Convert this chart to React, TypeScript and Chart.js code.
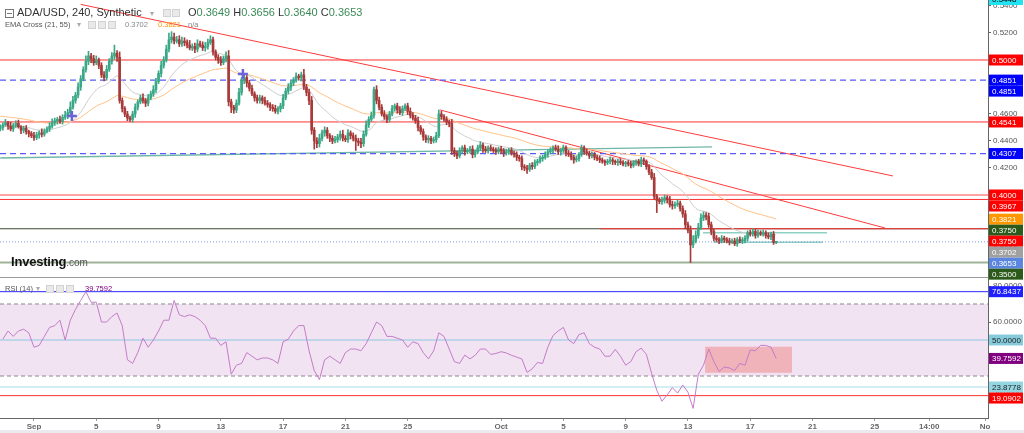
import React, { useEffect, useRef } from 'react';
import { Chart, registerables } from 'chart.js';

Chart.register(...registerables);

// ---------- DATA (prices in 1/10000 units, one value per 4h candle) ----------
const firstOpen = 4490;
const closes = [
  4500, 4520, 4535, 4510, 4490, 4515, 4530, 4505, 4480, 4495,
  4470, 4455, 4440, 4425, 4445, 4460, 4450, 4470, 4490, 4510,
  4535, 4550, 4560, 4545, 4575, 4590, 4610, 4650, 4700, 4740,
  4800, 4860, 4930, 4990, 5030, 5010, 4980, 5000, 4960, 4890,
  4870, 4930, 4990, 5030, 5050, 5020, 4700, 4640, 4600, 4570,
  4560, 4600, 4650, 4690, 4720, 4700, 4680, 4720, 4750, 4780,
  4840, 4900, 4960, 5000, 5080, 5150, 5170, 5140, 5150, 5120,
  5140, 5130, 5110, 5090, 5100, 5080, 5120, 5110, 5090, 5100,
  5130, 5150, 5060, 5020, 5000, 4980, 5010, 5030, 4690, 4650,
  4630, 4680, 4760, 4850, 4870, 4830, 4790, 4750, 4720, 4700,
  4720, 4700, 4680, 4670, 4650, 4640, 4620, 4640, 4660, 4720,
  4770, 4800, 4830, 4850, 4880, 4870, 4890, 4800, 4760, 4700,
  4480, 4400, 4380, 4420, 4460, 4480, 4440, 4420, 4400, 4410,
  4430, 4450, 4420, 4410, 4460, 4440, 4420, 4400, 4390, 4380,
  4450, 4520, 4560, 4590, 4780, 4700, 4650, 4600, 4580, 4560,
  4600, 4640, 4660, 4630, 4610, 4640, 4660, 4620, 4590, 4570,
  4550, 4500, 4470, 4430, 4410, 4420, 4400, 4410, 4440, 4600,
  4580, 4560, 4540, 4530, 4330, 4310, 4290, 4330, 4350, 4320,
  4330, 4340, 4300, 4320, 4350, 4370, 4340, 4330, 4350, 4340,
  4330, 4320, 4340, 4330, 4310, 4320, 4330, 4310, 4300, 4280,
  4270, 4210, 4200, 4190, 4220, 4210, 4240, 4250, 4270, 4280,
  4300, 4320, 4330, 4350, 4340, 4320, 4330, 4350, 4310, 4300,
  4280, 4260, 4270, 4300, 4350, 4320, 4310, 4290, 4300, 4280,
  4270, 4260, 4250, 4240, 4250, 4260, 4250, 4240, 4250, 4240,
  4230, 4240, 4230, 4220, 4240, 4250, 4230, 4260, 4250, 4210,
  4170, 4130, 3990, 3960, 3950, 3960, 3980, 3970, 3930, 3920,
  3930, 3940, 3900, 3860, 3780, 3740, 3630, 3660, 3700, 3760,
  3830, 3850, 3840, 3780, 3730, 3680, 3670, 3660, 3680, 3670,
  3660, 3650, 3660, 3640, 3670, 3660, 3660, 3680, 3720, 3710,
  3730, 3700, 3720, 3710, 3720, 3700, 3690, 3710, 3649, 3653,
];
const upWick = [
  20, 15, 25, 10, 30, 15, 20, 25, 10, 15,
  20, 10, 15, 25, 20, 15, 30, 20, 15, 25,
  30, 20, 15, 25, 20, 30, 25, 40, 30, 20,
  30, 25, 20, 40, 35, 20, 25, 30, 15, 20,
  25, 30, 20, 25, 60, 20, 40, 20, 15, 20,
  15, 20, 25, 15, 20, 30, 15, 25, 20, 30,
  25, 20, 30, 25, 30, 50, 40, 30, 25, 30,
  30, 25, 20, 35, 20, 25, 30, 20, 25, 30,
  25, 30, 20, 15, 20, 25, 20, 30, 40, 20,
  15, 25, 30, 20, 25, 15, 20, 25, 15, 20,
  20, 15, 25, 20, 15, 20, 25, 15, 20, 25,
  20, 25, 15, 20, 25, 15, 20, 40, 20, 25,
  30, 20, 25, 30, 20, 25, 20, 15, 20, 25,
  20, 25, 30, 20, 25, 15, 20, 25, 20, 30,
  25, 30, 20, 25, 20, 30, 25, 20, 25, 15,
  20, 25, 15, 20, 25, 20, 15, 20, 25, 20,
  20, 25, 15, 20, 15, 20, 15, 20, 25, 30,
  20, 15, 20, 15, 30, 20, 15, 20, 15, 20,
  15, 20, 25, 15, 20, 25, 15, 20, 15, 20,
  15, 20, 15, 20, 15, 20, 15, 20, 15, 20,
  15, 20, 15, 20, 15, 20, 20, 15, 20, 15,
  20, 15, 20, 15, 20, 25, 15, 20, 15, 20,
  20, 15, 20, 15, 20, 15, 20, 15, 20, 15,
  15, 20, 15, 10, 15, 20, 15, 10, 15, 20,
  15, 10, 15, 20, 15, 10, 15, 20, 15, 10,
  15, 20, 30, 15, 20, 25, 20, 15, 20, 25,
  20, 25, 15, 20, 25, 20, 30, 40, 35, 30,
  30, 25, 20, 25, 20, 15, 20, 15, 20, 15,
  15, 20, 15, 20, 15, 20, 25, 20, 15, 20,
  20, 15, 20, 15, 20, 15, 20, 15, 20, 3,
];
const downWick = [
  15, 20, 10, 25, 15, 20, 15, 10, 25, 20,
  20, 25, 15, 20, 15, 25, 20, 15, 10, 20,
  15, 20, 25, 15, 20, 15, 25, 20, 15, 20,
  20, 25, 15, 20, 25, 30, 20, 15, 25, 20,
  25, 20, 15, 20, 25, 30, 20, 25, 20, 20,
  15, 20, 25, 20, 15, 20, 25, 20, 15, 20,
  20, 15, 25, 20, 15, 20, 25, 20, 15, 20,
  20, 25, 20, 15, 20, 25, 20, 15, 20, 25,
  20, 15, 25, 20, 25, 20, 15, 25, 30, 40,
  25, 20, 15, 20, 25, 30, 20, 15, 25, 20,
  20, 25, 15, 20, 25, 20, 15, 20, 25, 20,
  15, 20, 25, 20, 15, 20, 25, 20, 25, 30,
  30, 60, 30, 25, 20, 25, 20, 25, 20, 15,
  20, 25, 20, 15, 20, 25, 20, 70, 25, 30,
  20, 15, 20, 15, 20, 25, 20, 15, 20, 25,
  20, 15, 20, 25, 15, 20, 15, 25, 20, 15,
  20, 25, 20, 25, 20, 25, 20, 15, 20, 15,
  20, 15, 20, 25, 30, 25, 20, 15, 20, 25,
  15, 20, 25, 20, 15, 20, 25, 15, 20, 15,
  15, 20, 15, 20, 25, 15, 20, 15, 20, 25,
  20, 25, 20, 30, 15, 20, 15, 20, 15, 20,
  15, 20, 15, 20, 15, 20, 25, 15, 20, 15,
  20, 25, 15, 20, 15, 20, 15, 20, 15, 20,
  15, 20, 15, 20, 15, 20, 25, 15, 20, 15,
  15, 20, 15, 20, 15, 20, 15, 20, 25, 20,
  20, 15, 20, 90, 15, 20, 20, 30, 20, 25,
  20, 15, 20, 25, 30, 20, 130, 20, 15, 20,
  15, 20, 25, 20, 25, 20, 15, 20, 15, 20,
  15, 20, 10, 15, 20, 15, 20, 15, 20, 15,
  15, 20, 15, 10, 15, 20, 15, 20, 15, 9,
];
// RSI(14), one reading every second candle (candles 1, 3, 5, ...)
const rsiValues = [
  50.5, 55, 52, 55, 56, 54, 46, 47, 52, 57,
  58, 61, 50, 61, 67, 72, 76.84, 71, 71, 60,
  60, 63, 65, 58, 39, 37, 43, 51, 46, 50,
  55, 61, 61, 72, 64, 63, 64, 63, 61, 58,
  51, 51, 47, 49, 31, 36, 37, 43, 41, 39,
  40, 40, 39, 37, 49, 50.5, 55, 58, 58, 44,
  33, 28, 39, 41, 39, 37, 43, 45, 45, 44,
  48, 54, 60, 58, 52, 52, 51, 50, 46, 49,
  48, 43, 39.5, 44, 54, 52, 45, 38, 37, 41.6,
  39.5, 41.5, 45, 45, 42, 42.5, 43.5, 42.8, 41.5, 40.5,
  39.5, 32, 34, 37.5, 37, 46, 52.5, 55, 57, 50,
  48, 53, 54, 48, 46, 45, 41, 41, 44.8, 41,
  36, 38, 43.5, 45.5, 42, 31.5, 22, 16, 19.5, 23.5,
  20.5, 25, 21, 12, 31, 36, 45, 38, 32.5, 35,
  34.5, 33, 37, 36, 44.5, 44, 47, 47, 46, 39.7592,
];
const ema21Seed = 0.4506;
const ema55Seed = 0.4587;
const emaCrossIdx = [27.6, 93.5];
const emaCrossPrice = [0.4585, 0.4896];

// Levels / drawings (price units, candle-index units)
const redLevels = [0.5, 0.4541, 0.3967];
const paleRedLevels = [0.4];
const blueDashedLevels = [0.4851, 0.4307];
const currentPrice = 0.3653;
const supportLevel = 0.35;
const level375 = 0.375;
const trendA = { x: [31, 344], y: [0.5412, 0.4141] };
const trendB = { x: [169.5, 340.9], y: [0.463, 0.3756] };
const tealLong = { x: [0, 274.3], y: [0.4274, 0.4356] };
const tealBox = { x: [270.8, 318.6], y: [0.3721, 0.365] };

const rsiBand = [30, 70];
const rsiLevelMax = 76.8437;
const rsiLevelMid = 50;
const rsiLevelA = 23.8778;
const rsiLevelB = 19.0902;
const rsiBox = { x: [271.6, 305.1], y: [31.8, 46.3] };

const xTickIdx = [13, 37, 61, 85, 109, 133, 157, 193, 217, 241, 265, 289, 313, 337, 358, 379.5];
const xTickLabels = ['Sep', '5', '9', '13', '17', '21', '25', 'Oct', '5', '9', '13', '17', '21', '25', '14:00', 'No'];
const priceTicks = [0.54, 0.52, 0.5, 0.48, 0.46, 0.44, 0.42, 0.4, 0.38, 0.36];
const rsiTicks = [80, 60, 40, 20];

const priceTags = [
  { v: 0.5448, bg: '#22e3f2', fg: '#000' },
  { v: 0.5, bg: '#ff0000', fg: '#fff' },
  { v: 0.4851, bg: '#0000ff', fg: '#fff' },
  { v: 0.4851, bg: '#0000ff', fg: '#fff' },
  { v: 0.4541, bg: '#ff0000', fg: '#fff' },
  { v: 0.4307, bg: '#0000ff', fg: '#fff' },
  { v: 0.4, bg: '#ff0000', fg: '#fff' },
  { v: 0.3967, bg: '#ff0000', fg: '#fff' },
  { v: 0.3821, bg: '#ff9800', fg: '#fff' },
  { v: 0.375, bg: '#2b5a1a', fg: '#fff' },
  { v: 0.375, bg: '#ff0000', fg: '#fff' },
  { v: 0.3702, bg: '#a0a0a0', fg: '#fff' },
  { v: 0.3653, bg: '#5a86e0', fg: '#fff' },
  { v: 0.35, bg: '#2b5a1a', fg: '#fff' },
];
const rsiTags = [
  { v: 76.8437, bg: '#2020ff', fg: '#fff' },
  { v: 50, bg: '#86cbdc', fg: '#222' },
  { v: 39.7592, bg: '#800080', fg: '#fff' },
  { v: 23.8778, bg: '#93d6e2', fg: '#222' },
  { v: 19.0902, bg: '#ff0000', fg: '#fff' },
];

// ---------- helpers ----------
const X_MIN = -0.1;
const X_MAX = 380.63;
const FONT = '"Liberation Sans", Arial, sans-serif';
const UP = '#3aa886';
const DOWN = '#a83a3a';

function emaSeries(vals: number[], period: number, seed: number) {
  const k = 2 / (period + 1);
  let e = seed;
  return vals.map((v) => (e = v * k + e * (1 - k)));
}

function seg(x0: number, x1: number, y0: number, y1: number) {
  return [{ x: x0, y: y0 }, { x: x1, y: y1 }];
}

function lineDs(data: any[], color: string, width = 1, dash: number[] = [], order = 20, extra: any = {}) {
  return {
    type: 'line',
    data,
    borderColor: color,
    borderWidth: width,
    borderDash: dash,
    pointRadius: 0,
    fill: false,
    tension: 0,
    order,
    ...extra,
  };
}

function tagPlugin(id: string, tags: { v: number; bg: string; fg: string }[], digits: number) {
  return {
    id,
    afterDraw(chart: any) {
      const s = chart.scales.y;
      const ctx = chart.ctx;
      const items = tags.map((t, i) => ({ ...t, i, y: s.getPixelForValue(t.v) }));
      items.sort((a, b) => a.y - b.y || a.i - b.i);
      let prev = -Infinity;
      ctx.save();
      ctx.font = `8px ${FONT}`;
      ctx.textBaseline = 'middle';
      ctx.textAlign = 'left';
      for (const it of items) {
        const y = Math.max(it.y, prev + 11);
        prev = y;
        ctx.fillStyle = it.bg;
        ctx.fillRect(s.left + 1, y - 5.5, 34, 11);
        ctx.fillStyle = it.fg;
        ctx.fillText(it.v.toFixed(digits), s.left + 4, y + 0.5);
      }
      ctx.restore();
    },
  };
}

const separatorPlugin = {
  id: 'sep',
  afterDraw(chart: any) {
    const { ctx, chartArea } = chart;
    ctx.save();
    ctx.strokeStyle = '#9a9a9a';
    ctx.lineWidth = 1;
    ctx.beginPath();
    ctx.moveTo(0, chartArea.bottom - 0.5);
    ctx.lineTo(chartArea.right, chartArea.bottom - 0.5);
    ctx.stroke();
    ctx.restore();
  },
};

const Icon = ({ x, y }: { x: number; y: number }) => (
  <span
    style={{
      position: 'absolute',
      left: x,
      top: y,
      width: 8,
      height: 8,
      background: '#e9e9e9',
      border: '1px solid #d2d2d2',
      boxSizing: 'border-box',
    }}
  />
);

export default function App() {
  const priceRef = useRef<HTMLCanvasElement>(null);
  const rsiRef = useRef<HTMLCanvasElement>(null);

  useEffect(() => {
    const candles = closes.map((c, i) => {
      const o = i === 0 ? firstOpen : closes[i - 1];
      const top = Math.max(o, c);
      const bot = Math.min(o, c);
      return { x: i, o: o / 1e4, c: c / 1e4, h: (top + upWick[i]) / 1e4, l: (bot - downWick[i]) / 1e4 };
    });
    const closeP = closes.map((c) => c / 1e4);
    const e21 = emaSeries(closeP, 21, ema21Seed);
    const e55 = emaSeries(closeP, 55, ema55Seed);
    const colors = candles.map((k) => (k.c >= k.o ? UP : DOWN));

    const priceDatasets: any[] = [
      {
        type: 'bar',
        data: candles.map((k) => ({ x: k.x, y: [k.o, k.c] })),
        backgroundColor: colors,
        barThickness: 2,
        minBarLength: 1,
        grouped: false,
        order: 1,
      },
      {
        type: 'bar',
        data: candles.map((k) => ({ x: k.x, y: [k.l, k.h] })),
        backgroundColor: colors,
        barThickness: 1,
        grouped: false,
        order: 2,
      },
      {
        type: 'scatter',
        data: emaCrossIdx.map((x, i) => ({ x, y: emaCrossPrice[i] })),
        pointStyle: 'cross',
        pointRadius: 5,
        borderWidth: 2.5,
        borderColor: '#6e62d8',
        backgroundColor: '#6e62d8',
        order: 0,
      },
      lineDs(e21.map((y, i) => ({ x: i, y })), '#cdcdcd', 1, [], 3),
      lineDs(e55.map((y, i) => ({ x: i, y })), '#ffc184', 1, [], 4),
      ...redLevels.map((v) => lineDs(seg(X_MIN, X_MAX, v, v), '#ff3030', 1)),
      ...paleRedLevels.map((v) => lineDs(seg(X_MIN, X_MAX, v, v), 'rgba(255,90,90,0.55)', 2)),
      ...blueDashedLevels.map((v) => lineDs(seg(X_MIN, X_MAX, v, v), '#5a5af5', 1.3, [6, 4])),
      lineDs(seg(X_MIN, X_MAX, level375, level375), '#3a4a30', 1, [], 21),
      lineDs(seg(231, X_MAX, level375, level375), '#ff3030', 1),
      lineDs(seg(X_MIN, X_MAX, currentPrice, currentPrice), '#7b9be6', 1, [1, 2]),
      lineDs(seg(X_MIN, X_MAX, supportLevel, supportLevel), '#9fb39a', 2),
      lineDs(seg(trendA.x[0], trendA.x[1], trendA.y[0], trendA.y[1]), '#ff3b3b', 1),
      lineDs(seg(trendB.x[0], trendB.x[1], trendB.y[0], trendB.y[1]), '#ff3b3b', 1),
      lineDs(seg(tealLong.x[0], tealLong.x[1], tealLong.y[0], tealLong.y[1]), '#6fb7a8', 1.3),
      lineDs(seg(tealBox.x[0], tealBox.x[1], tealBox.y[0], tealBox.y[0]), '#8fd0c4', 1.5),
      lineDs(seg(tealBox.x[0] + 4, tealBox.x[1] - 1.6, tealBox.y[1], tealBox.y[1]), '#8fd0c4', 1.5),
    ];

    const priceChart = new Chart(priceRef.current as HTMLCanvasElement, {
      type: 'bar',
      data: { datasets: priceDatasets },
      options: {
        animation: false,
        responsive: false,
        maintainAspectRatio: false,
        layout: { autoPadding: false, padding: { top: 0, left: 0, right: 0, bottom: 12 } },
        plugins: { legend: { display: false }, tooltip: { enabled: false } },
        scales: {
          x: { type: 'linear', min: X_MIN, max: X_MAX, display: false, offset: false },
          y: {
            type: 'linear',
            position: 'right',
            min: 0.33852,
            max: 0.54444,
            afterBuildTicks: (s: any) => {
              s.ticks = priceTicks.map((v) => ({ value: v }));
            },
            afterFit: (s: any) => {
              s.width = 36;
              s.paddingTop = 0;
              s.paddingBottom = 0;
            },
            ticks: {
              font: { family: FONT, size: 8 },
              color: '#555',
              padding: 2,
              callback: (v: any) => Number(v).toFixed(4),
            },
            grid: { drawOnChartArea: false, tickLength: 3, color: '#666' },
            border: { display: true, color: '#666' },
          },
        },
      } as any,
      plugins: [separatorPlugin, tagPlugin('ptags', priceTags, 4)],
    });

    const rsiDatasets: any[] = [
      lineDs(
        rsiValues.map((y, k) => ({ x: 2 * k + 1, y })),
        '#c47cc9',
        1,
        [],
        0,
      ),
      lineDs(seg(rsiBox.x[0], rsiBox.x[1], rsiBox.y[1], rsiBox.y[1]), 'rgba(0,0,0,0)', 0, [], 50),
      lineDs(seg(rsiBox.x[0], rsiBox.x[1], rsiBox.y[0], rsiBox.y[0]), 'rgba(0,0,0,0)', 0, [], 50, {
        fill: '-1',
        backgroundColor: 'rgba(240,120,120,0.45)',
      }),
      lineDs(seg(X_MIN, X_MAX, rsiLevelMax, rsiLevelMax), '#2b2bff', 1, [], 60),
      lineDs(seg(X_MIN, X_MAX, rsiLevelMid, rsiLevelMid), '#8ec6e0', 1, [], 60),
      lineDs(seg(X_MIN, X_MAX, rsiLevelA, rsiLevelA), '#a6dde8', 1, [], 60),
      lineDs(seg(X_MIN, X_MAX, rsiLevelB, rsiLevelB), '#ff3030', 1, [], 60),
      lineDs(seg(X_MIN, X_MAX, rsiBand[1], rsiBand[1]), '#b0aab0', 1.5, [4, 3], 100),
      lineDs(seg(X_MIN, X_MAX, rsiBand[0], rsiBand[0]), '#b0aab0', 1.5, [4, 3], 100, {
        fill: '-1',
        backgroundColor: '#f1e3f1',
      }),
    ];

    const rsiChart = new Chart(rsiRef.current as HTMLCanvasElement, {
      type: 'line',
      data: { datasets: rsiDatasets },
      options: {
        animation: false,
        responsive: false,
        maintainAspectRatio: false,
        layout: { autoPadding: false, padding: 0 },
        plugins: { legend: { display: false }, tooltip: { enabled: false } },
        scales: {
          x: {
            type: 'linear',
            min: X_MIN,
            max: X_MAX,
            offset: false,
            afterBuildTicks: (s: any) => {
              s.ticks = xTickIdx.map((v) => ({ value: v }));
            },
            afterFit: (s: any) => {
              s.height = 15;
              s.paddingLeft = 0;
              s.paddingRight = 0;
            },
            ticks: {
              autoSkip: false,
              maxRotation: 0,
              minRotation: 0,
              padding: 1,
              font: { family: FONT, size: 8, weight: 'bold' },
              color: '#666',
              callback: (_v: any, i: number) => xTickLabels[i],
            },
            grid: { drawOnChartArea: false, tickLength: 3, color: '#999' },
            border: { display: true, color: '#666' },
          },
          y: {
            type: 'linear',
            position: 'right',
            min: 6.67,
            max: 83.89,
            afterBuildTicks: (s: any) => {
              s.ticks = rsiTicks.map((v) => ({ value: v }));
            },
            afterFit: (s: any) => {
              s.width = 36;
              s.paddingTop = 0;
              s.paddingBottom = 0;
            },
            ticks: {
              font: { family: FONT, size: 8 },
              color: '#555',
              padding: 2,
              callback: (v: any) => Number(v).toFixed(4),
            },
            grid: { drawOnChartArea: false, tickLength: 3, color: '#666' },
            border: { display: true, color: '#666' },
          },
        },
      } as any,
      plugins: [tagPlugin('rtags', rsiTags, 4)],
    });

    return () => {
      priceChart.destroy();
      rsiChart.destroy();
    };
  }, []);

  const small = { fontFamily: FONT, fontSize: 7.5, lineHeight: '8px', position: 'absolute' as const, whiteSpace: 'nowrap' as const };

  return (
    <div style={{ position: 'fixed', left: 0, top: 0, width: 1024, height: 433, background: '#fff', overflow: 'hidden' }}>
      <canvas ref={priceRef} width={1024} height={290} style={{ position: 'absolute', left: 0, top: 0, width: 1024, height: 290 }} />
      <canvas ref={rsiRef} width={1024} height={154} style={{ position: 'absolute', left: 0, top: 279, width: 1024, height: 154 }} />
      <div style={{ position: 'absolute', left: 0, top: 430, width: 1024, height: 3, background: '#ebebef' }} />

      {/* main legend */}
      <span style={{ position: 'absolute', left: 5, top: 9, width: 9, height: 9, border: '1px solid #777', boxSizing: 'border-box' }}>
        <span style={{ position: 'absolute', left: 1, top: 3, width: 5, height: 1, background: '#777' }} />
      </span>
      <div style={{ position: 'absolute', left: 17, top: 7, fontFamily: FONT, fontSize: 11, lineHeight: '11px', color: '#333', whiteSpace: 'nowrap' }}>
        ADA/USD, 240, Synthetic
      </div>
      <div style={{ position: 'absolute', left: 150, top: 8, fontFamily: FONT, fontSize: 8, lineHeight: '11px', color: '#aaa' }}>▾</div>
      <Icon x={163} y={9} />
      <Icon x={172} y={9} />
      <div style={{ position: 'absolute', left: 188, top: 7, fontFamily: FONT, fontSize: 11, lineHeight: '11px', color: '#333', whiteSpace: 'nowrap' }}>
        O<span style={{ color: '#3a8a55' }}>0.3649</span> H<span style={{ color: '#3a8a55' }}>0.3656</span> L
        <span style={{ color: '#3a8a55' }}>0.3640</span> C<span style={{ color: '#3a8a55' }}>0.3653</span>
      </div>

      {/* EMA legend */}
      <div style={{ ...small, left: 5, top: 21, color: '#555' }}>EMA Cross (21, 55)</div>
      <div style={{ ...small, left: 77, top: 21, color: '#aaa' }}>▾</div>
      <Icon x={88} y={21} />
      <Icon x={98} y={21} />
      <Icon x={108} y={21} />
      <div style={{ ...small, left: 125, top: 21, color: '#888' }}>0.3702</div>
      <div style={{ ...small, left: 158, top: 21, color: '#ff9800' }}>0.3821</div>
      <div style={{ ...small, left: 188, top: 21, color: '#888' }}>n/a</div>

      {/* logo */}
      <div style={{ position: 'absolute', left: 11, top: 255, fontFamily: FONT, fontSize: 13, lineHeight: '13px', fontWeight: 'bold', color: '#111', whiteSpace: 'nowrap', letterSpacing: '-0.2px' }}>
        Investing<span style={{ fontWeight: 'normal', fontSize: 10, color: '#555', letterSpacing: 0 }}>.com</span>
      </div>

      {/* RSI legend */}
      <div style={{ ...small, left: 5, top: 285, color: '#555' }}>RSI (14)</div>
      <div style={{ ...small, left: 36, top: 285, color: '#aaa' }}>▾</div>
      <Icon x={46} y={285} />
      <Icon x={56} y={285} />
      <Icon x={66} y={285} />
      <div style={{ ...small, left: 85, top: 285, color: '#800080' }}>39.7592</div>
    </div>
  );
}
